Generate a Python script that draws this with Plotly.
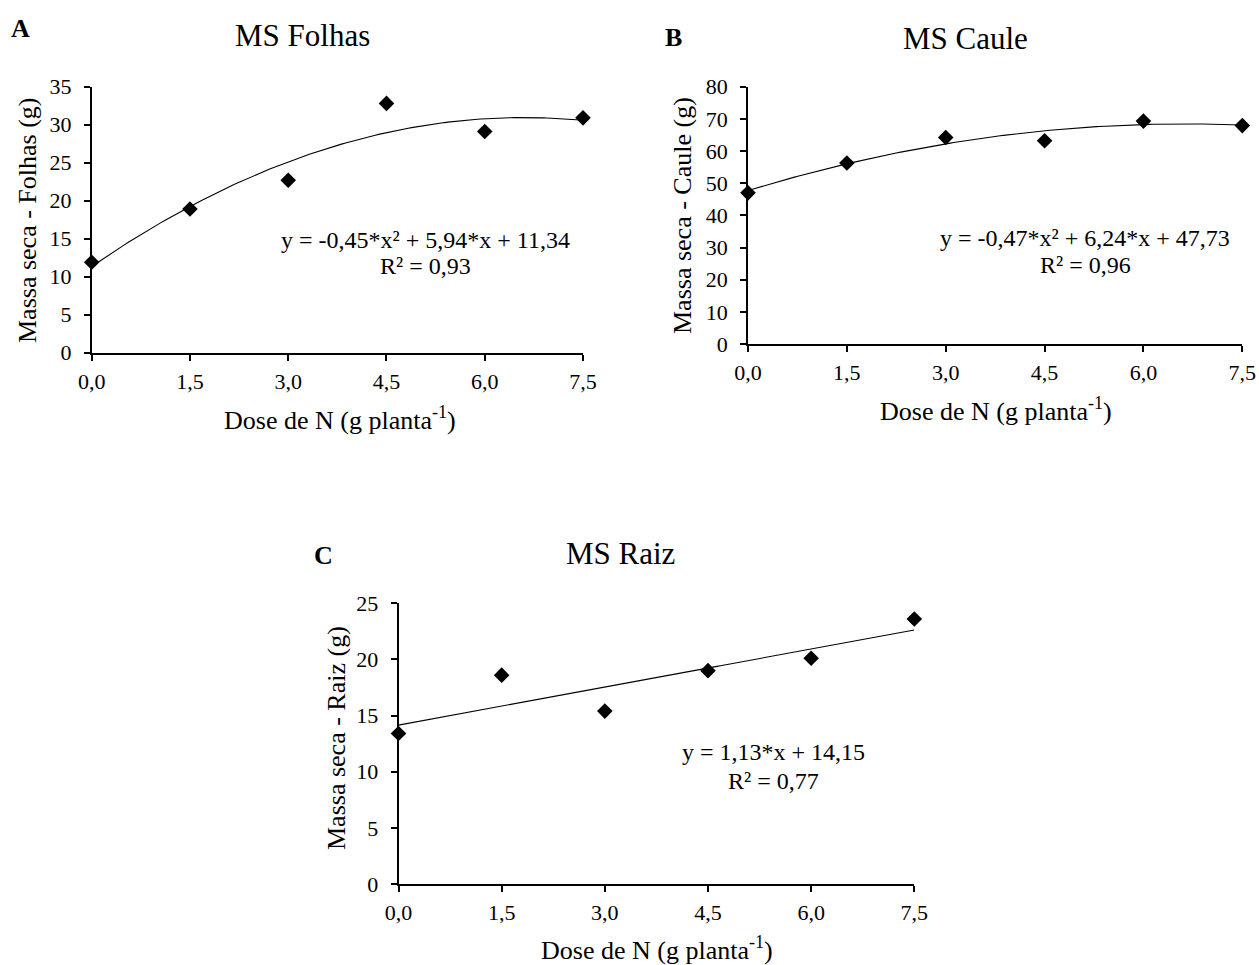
import numpy as np
import plotly.graph_objects as go

# ---------------- data ----------------
doses = [0.0, 1.5, 3.0, 4.5, 6.0, 7.5]
dose_labels = ["0,0", "1,5", "3,0", "4,5", "6,0", "7,5"]

ms_folhas = [11.9, 18.9, 22.7, 32.8, 29.1, 30.9]
ms_caule = [47.0, 56.3, 64.2, 63.2, 69.3, 67.9]
ms_raiz = [13.4, 18.6, 15.4, 19.0, 20.1, 23.6]

# regression coefficients shown on chart (a*x^2 + b*x + c)
coef_folhas = [-0.45, 5.94, 11.34]
coef_caule = [-0.47, 6.24, 47.73]
coef_raiz = [0.0, 1.13, 14.15]

eq_folhas = ["y = -0,45*x² + 5,94*x + 11,34", "R² = 0,93"]
eq_caule = ["y = -0,47*x² + 6,24*x + 47,73", "R² = 0,96"]
eq_raiz = ["y = 1,13*x + 14,15", "R² = 0,77"]

titles = ["MS Folhas", "MS Caule", "MS Raiz"]
letters = ["A", "B", "C"]
ytitles = ["Massa seca - Folhas (g)", "Massa seca - Caule (g)", "Massa seca - Raiz (g)"]
xtitle = "Dose de N (g planta<sup>-1</sup>)"

y_ticks_folhas = [0, 5, 10, 15, 20, 25, 30, 35]
y_ticks_caule = [0, 10, 20, 30, 40, 50, 60, 70, 80]
y_ticks_raiz = [0, 5, 10, 15, 20, 25]

# ---------------- layout geometry (pixels) ----------------
W, H = 1259, 965
FONT = "Liberation Serif"


def px_x(v):
    return v / W


def px_y(v):
    return 1 - v / H


panels = [
    dict(x0=91.7, x1=583.0, ytop=86.7, ybot=352.7, yrange=[0, 35], yt=y_ticks_folhas,
         data=ms_folhas, coef=coef_folhas, eq=eq_folhas,
         title_xy=(302, 36), letter_xy=(21, 28), ytitle_xy=(27, 220), xtitle_xy=(340, 418),
         eq_xy=(425, 240, 266)),
    dict(x0=748.0, x1=1242.3, ytop=86.7, ybot=344.0, yrange=[0, 80], yt=y_ticks_caule,
         data=ms_caule, coef=coef_caule, eq=eq_caule,
         title_xy=(965, 38), letter_xy=(673, 37), ytitle_xy=(683, 216), xtitle_xy=(996, 410),
         eq_xy=(1085, 238, 265)),
    dict(x0=398.5, x1=914.3, ytop=603.3, ybot=884.0, yrange=[0, 25], yt=y_ticks_raiz,
         data=ms_raiz, coef=coef_raiz, eq=eq_raiz,
         title_xy=(620, 553), letter_xy=(324, 555), ytitle_xy=(336, 738), xtitle_xy=(657, 948),
         eq_xy=(773, 752, 781)),
]

fig = go.Figure()
annotations = []
xgrid = np.linspace(0, 7.5, 150)

for i, p in enumerate(panels):
    k = "" if i == 0 else str(i + 1)
    xa, ya = "x" + k, "y" + k
    a, b, c = p["coef"]
    fig.add_trace(go.Scatter(x=xgrid, y=a * xgrid ** 2 + b * xgrid + c, mode="lines",
                             line=dict(color="black", width=1.1), xaxis=xa, yaxis=ya,
                             showlegend=False, hoverinfo="skip"))
    fig.add_trace(go.Scatter(x=doses, y=p["data"], mode="markers",
                             marker=dict(symbol="diamond", size=12, color="black"),
                             xaxis=xa, yaxis=ya, showlegend=False, cliponaxis=False))
    axis_common = dict(showline=True, linecolor="black", linewidth=1.6, ticks="outside",
                       tickcolor="black", tickwidth=1.6, ticklen=6, showgrid=False,
                       zeroline=False, tickfont=dict(family=FONT, size=22, color="black"))
    fig.layout["xaxis" + k] = dict(domain=[px_x(p["x0"]), px_x(p["x1"])], range=[0, 7.5],
                                   tickvals=doses, ticktext=dose_labels, anchor=ya,
                                   ticklabelstandoff=2, **axis_common)
    fig.layout["yaxis" + k] = dict(domain=[px_y(p["ybot"]), px_y(p["ytop"])], range=p["yrange"],
                                   tickvals=p["yt"], anchor=xa, ticklabelstandoff=8,
                                   **axis_common)
    tx, ty = p["title_xy"]
    annotations.append(dict(text=titles[i], x=px_x(tx), y=px_y(ty), xref="paper", yref="paper",
                            showarrow=False, xanchor="center", yanchor="middle",
                            font=dict(family=FONT, size=31, color="black")))
    lx, ly = p["letter_xy"]
    annotations.append(dict(text="<b>" + letters[i] + "</b>", x=px_x(lx), y=px_y(ly),
                            xref="paper", yref="paper", showarrow=False,
                            xanchor="center", yanchor="middle",
                            font=dict(family=FONT, size=26, color="black")))
    yx, yy = p["ytitle_xy"]
    annotations.append(dict(text=ytitles[i], x=px_x(yx), y=px_y(yy), xref="paper", yref="paper",
                            showarrow=False, xanchor="center", yanchor="middle", textangle=-90,
                            font=dict(family=FONT, size=26, color="black")))
    xx, xy = p["xtitle_xy"]
    annotations.append(dict(text=xtitle, x=px_x(xx), y=px_y(xy), xref="paper", yref="paper",
                            showarrow=False, xanchor="center", yanchor="middle",
                            font=dict(family=FONT, size=26, color="black")))
    ex, ey1, ey2 = p["eq_xy"]
    annotations.append(dict(text=p["eq"][0], x=px_x(ex), y=px_y(ey1), xref="paper", yref="paper",
                            showarrow=False, xanchor="center", yanchor="middle",
                            font=dict(family=FONT, size=24, color="black")))
    annotations.append(dict(text=p["eq"][1], x=px_x(ex), y=px_y(ey2), xref="paper", yref="paper",
                            showarrow=False, xanchor="center", yanchor="middle",
                            font=dict(family=FONT, size=24, color="black")))

fig.update_layout(width=W, height=H, margin=dict(l=0, r=0, t=0, b=0, autoexpand=False),
                  paper_bgcolor="white", plot_bgcolor="white", annotations=annotations,
                  font=dict(family=FONT, color="black"))

fig.write_html("out.html", config={"displayModeBar": False},
               post_script="document.body.style.margin='0';document.body.style.overflow='hidden';")
